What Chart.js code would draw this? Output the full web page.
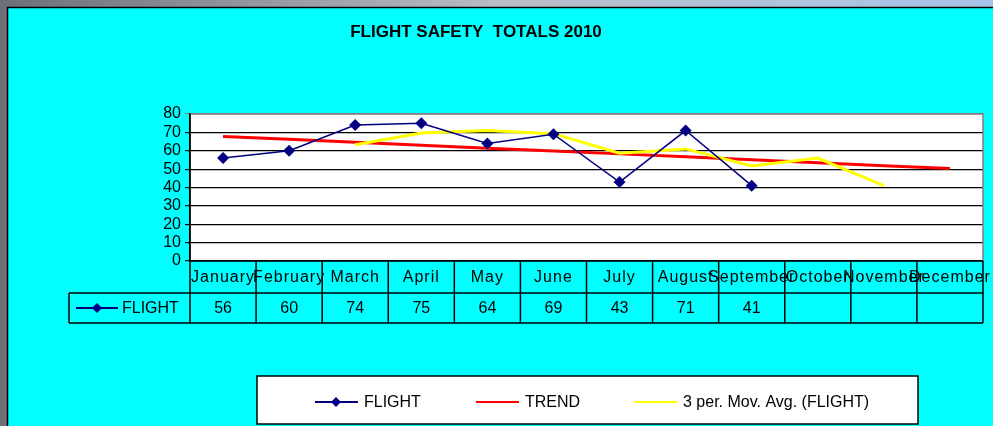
<!DOCTYPE html>
<html>
<head>
<meta charset="utf-8">
<script src="https://cdn.jsdelivr.net/npm/chart.js@4/dist/chart.umd.min.js"></script>
<style>
  html, body { margin: 0; padding: 0; background: #9aa0aa; }
  canvas { display: block; }
</style>
</head>
<body>
<canvas id="flight" width="993" height="426"></canvas>
<script>
const months = ['January', 'February', 'March', 'April', 'May', 'June', 'July', 'August', 'September', 'October', 'November', 'December'];
const flight = [56, 60, 74, 75, 64, 69, 43, 71, 41, null, null, null];
const trend = [67.8, 66.2, 64.6, 63.0, 61.4, 59.9, 58.3, 56.7, 55.1, 53.5, 51.9, 50.4];
const movAvg = [null, null, 63.3, 69.7, 71.0, 69.3, 58.7, 61.0, 51.7, 56.0, 41.0, null];
const yMin = 0, yMax = 80, yStep = 10;

const FONT = '"Liberation Sans", Arial, sans-serif';
const NAVY = '#000080';

// frame, cyan panel and white plot area
const backdrop = {
  id: 'backdrop',
  beforeDraw(chart) {
    const ctx = chart.ctx, a = chart.chartArea;
    ctx.save();
    let g = ctx.createLinearGradient(0, 0, chart.width, 0);
    g.addColorStop(0, '#6d7078');
    g.addColorStop(0.5, '#b8bcc4');
    g.addColorStop(0.8, '#b0c4de');
    g.addColorStop(1, '#a8c4e8');
    ctx.fillStyle = g;
    ctx.fillRect(0, 0, chart.width, chart.height);
    ctx.fillStyle = '#00ffff';
    ctx.fillRect(8, 8, chart.width - 8, chart.height - 8);
    ctx.strokeStyle = '#000';
    ctx.lineWidth = 1.5;
    ctx.beginPath();
    ctx.moveTo(7.5, chart.height);
    ctx.lineTo(7.5, 7.5);
    ctx.lineTo(chart.width, 7.5);
    ctx.stroke();
    ctx.fillStyle = '#fff';
    ctx.fillRect(a.left, a.top, a.right - a.left, a.bottom - a.top);
    // title
    ctx.fillStyle = '#000';
    ctx.font = 'bold 17px ' + FONT;
    ctx.textAlign = 'center';
    ctx.textBaseline = 'middle';
    ctx.fillText('FLIGHT SAFETY  TOTALS 2010', 476, 32);
    ctx.restore();
  },
  afterDatasetsDraw(chart) {
    const ctx = chart.ctx, a = chart.chartArea;
    ctx.save();
    ctx.strokeStyle = '#808080';
    ctx.lineWidth = 1.5;
    ctx.beginPath();
    ctx.moveTo(a.left, a.top);
    ctx.lineTo(a.right, a.top);
    ctx.lineTo(a.right, a.bottom);
    ctx.stroke();
    ctx.restore();
  }
};

function diamond(ctx, x, y, r) {
  ctx.beginPath();
  ctx.moveTo(x, y - r);
  ctx.lineTo(x + r, y);
  ctx.lineTo(x, y + r);
  ctx.lineTo(x - r, y);
  ctx.closePath();
  ctx.fill();
}

// data table under the x axis
const dataTable = {
  id: 'dataTable',
  afterDraw(chart) {
    const ctx = chart.ctx, a = chart.chartArea, x = chart.scales.x;
    const row1 = a.bottom, row2 = a.bottom + 32, row3 = a.bottom + 62;
    const keyLeft = 69;
    const half = (x.getPixelForValue(1) - x.getPixelForValue(0)) / 2;
    ctx.save();
    ctx.strokeStyle = '#000';
    ctx.lineWidth = 1.5;
    ctx.beginPath();
    ctx.moveTo(a.left, row1); ctx.lineTo(a.right, row1);
    ctx.moveTo(keyLeft, row2); ctx.lineTo(a.right, row2);
    ctx.moveTo(keyLeft, row3); ctx.lineTo(a.right, row3);
    ctx.moveTo(keyLeft, row2); ctx.lineTo(keyLeft, row3);
    ctx.moveTo(a.left, a.top); ctx.lineTo(a.left, row3);
    months.forEach((m, i) => {
      const xr = x.getPixelForValue(i) + half;
      ctx.moveTo(xr, row1); ctx.lineTo(xr, row3);
    });
    ctx.stroke();

    ctx.fillStyle = '#000';
    ctx.font = '16px ' + FONT;
    ctx.textAlign = 'center';
    ctx.textBaseline = 'middle';
    months.forEach((m, i) => {
      const cx = x.getPixelForValue(i);
      ctx.letterSpacing = '1px';
      ctx.fillText(m, cx, (row1 + row2) / 2 + 1);
      ctx.letterSpacing = '0px';
      if (flight[i] !== null) ctx.fillText(String(flight[i]), cx, (row2 + row3) / 2 + 1);
    });

    // key for FLIGHT row
    const ky = (row2 + row3) / 2;
    ctx.strokeStyle = NAVY;
    ctx.lineWidth = 2;
    ctx.beginPath();
    ctx.moveTo(76, ky); ctx.lineTo(118, ky);
    ctx.stroke();
    ctx.fillStyle = NAVY;
    diamond(ctx, 97, ky, 5);
    ctx.fillStyle = '#000';
    ctx.textAlign = 'left';
    ctx.fillText('FLIGHT', 122, ky + 1);
    ctx.restore();
  }
};

// boxed legend at the bottom
const boxLegend = {
  id: 'boxLegend',
  afterDraw(chart) {
    const ctx = chart.ctx;
    const bx = 257, by = 376, bw = 661, bh = 48, cy = by + bh / 2 + 2;
    ctx.save();
    ctx.fillStyle = '#fff';
    ctx.fillRect(bx, by, bw, bh);
    ctx.strokeStyle = '#000';
    ctx.lineWidth = 1.5;
    ctx.strokeRect(bx, by, bw, bh);
    const items = [
      { x: 315, color: NAVY, width: 2, marker: true, label: chart.data.datasets[0].label },
      { x: 476, color: '#ff0000', width: 2, marker: false, label: chart.data.datasets[1].label },
      { x: 634, color: '#ffff00', width: 2, marker: false, label: chart.data.datasets[2].label }
    ];
    ctx.font = '16px ' + FONT;
    ctx.textBaseline = 'middle';
    ctx.textAlign = 'left';
    items.forEach(it => {
      ctx.strokeStyle = it.color;
      ctx.lineWidth = it.width;
      ctx.beginPath();
      ctx.moveTo(it.x, cy); ctx.lineTo(it.x + 43, cy);
      ctx.stroke();
      if (it.marker) { ctx.fillStyle = it.color; diamond(ctx, it.x + 21, cy, 5); }
      ctx.fillStyle = '#000';
      ctx.fillText(it.label, it.x + 49, cy + 1);
    });
    ctx.restore();
  }
};

new Chart(document.getElementById('flight'), {
  type: 'line',
  data: {
    labels: months,
    datasets: [
      {
        label: 'FLIGHT',
        data: flight,
        borderColor: NAVY,
        backgroundColor: NAVY,
        borderWidth: 1.5,
        pointStyle: 'rectRot',
        pointRadius: 6,
        pointBorderWidth: 0,
        tension: 0,
        order: 0
      },
      {
        label: 'TREND',
        data: trend,
        borderColor: '#ff0000',
        borderWidth: 3,
        pointRadius: 0,
        tension: 0,
        order: 2
      },
      {
        label: '3 per. Mov. Avg. (FLIGHT)',
        data: movAvg,
        borderColor: '#ffff00',
        borderWidth: 3,
        pointRadius: 0,
        tension: 0,
        order: 1
      }
    ]
  },
  options: {
    responsive: false,
    animation: false,
    events: [],
    layout: { padding: { top: 114, right: 10, left: 0, bottom: 0 } },
    plugins: {
      legend: { display: false },
      title: { display: false },
      tooltip: { enabled: false }
    },
    scales: {
      x: {
        offset: true,
        grid: { display: false },
        border: { display: false },
        ticks: { display: false },
        afterFit(s) { s.height = 165; }
      },
      y: {
        min: yMin,
        max: yMax,
        ticks: {
          stepSize: yStep,
          autoSkip: false,
          color: '#000',
          font: { family: FONT, size: 16 },
          padding: 4
        },
        grid: {
          color: c => (c.tick && c.tick.value === yMax ? '#808080' : '#000'),
          lineWidth: 1.2,
          tickLength: 5
        },
        border: { color: '#000', width: 1.5 },
        afterFit(s) { s.width = 190; }
      }
    }
  },
  plugins: [backdrop, dataTable, boxLegend]
});
</script>
</body>
</html>
